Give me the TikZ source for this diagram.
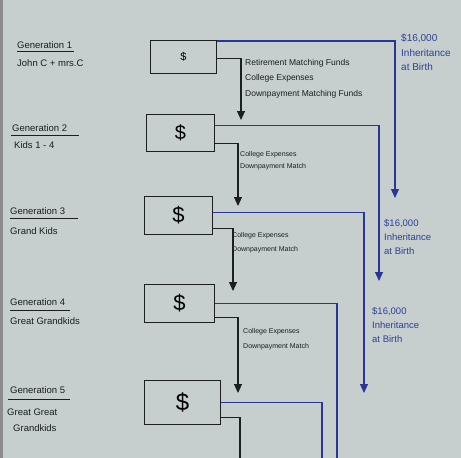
\documentclass[tikz,border=0pt]{standalone}
\usepackage{fontspec}
\setmainfont{Liberation Sans}
\usetikzlibrary{arrows.meta}
\definecolor{paper}{RGB}{199,206,206}
\definecolor{ink}{RGB}{28,30,34}
\definecolor{bink}{RGB}{40,55,150}
\definecolor{btext}{RGB}{45,65,150}
\begin{document}
\begin{tikzpicture}[x=1pt,y=-1pt,
  money/.style={draw=ink,line width=1.1pt,inner sep=0pt,anchor=north west},
  mon/.style={draw=ink,line width=1.1pt},
  inh/.style={draw=bink,line width=1.1pt},
  tip/.style={-{Triangle[width=8pt,length=9pt]}},
  gen/.style={anchor=west,text=ink,font=\fontsize{9.5}{10}\selectfont,inner sep=0pt},
  who/.style={anchor=west,text=ink,font=\fontsize{9.5}{10}\selectfont,inner sep=0pt},
  note/.style={anchor=west,text=ink,font=\fontsize{7}{8}\selectfont,inner sep=0pt},
  bignote/.style={anchor=west,text=ink,font=\fontsize{8.5}{10}\selectfont,inner sep=0pt},
  blue/.style={anchor=north west,text=btext,font=\fontsize{9.5}{14}\selectfont,inner sep=0pt,align=left},
  uline/.style={draw=ink,line width=1pt}]
\fill[paper] (0,0) rectangle (461,458);
\fill[black!45] (0,0) rectangle (3,458);
\useasboundingbox (0,0) rectangle (461,458);

% left labels
\node[gen] (l1) at (17,45) {Generation 1};
\draw[uline] (l1.south west) ++(0,3) -- ++(57,0);
\node[who] (w1) at (17,63) {John C + mrs.C};
\node[gen] (l2) at (12,128) {Generation 2};
\draw[uline] (l2.south west) ++(-1,4) -- ++(68,0);
\node[who] (w2) at (14,145) {Kids 1 - 4};
\node[gen] (l3) at (10,211) {Generation 3};
\draw[uline] (l3.south west) ++(0,4) -- ++(68,0);
\node[who] (w3) at (10,231) {Grand Kids};
\node[gen] (l4) at (10,302) {Generation 4};
\draw[uline] (l4.south west) ++(0,5) -- ++(60,0);
\node[who] (w4) at (10,321) {Great Grandkids};
\node[gen] (l5) at (10,390) {Generation 5};
\draw[uline] (l5.south west) ++(-2,6) -- ++(62,0);
\node[who] (w5a) at (7,412) {Great Great};
\node[who] (w5b) at (13,428) {Grandkids};

% money boxes
\node[money,minimum width=66pt,minimum height=33pt,font=\fontsize{11}{12}\selectfont] (g1) at (150,40) {\$};
\node[money,minimum width=68pt,minimum height=37pt,font=\fontsize{20}{22}\selectfont] (g2) at (146,114) {\$};
\node[money,minimum width=68pt,minimum height=38pt,font=\fontsize{22}{24}\selectfont] (g3) at (144,196) {\$};
\node[money,minimum width=70pt,minimum height=38pt,font=\fontsize{22}{24}\selectfont] (g4) at (144,284) {\$};
\node[money,minimum width=76pt,minimum height=44pt,font=\fontsize{24}{26}\selectfont] (g5) at (144,380) {\$};

% arrow ends and free ends
\coordinate (i1) at (395,198);
\coordinate (m1) at (241,120);
\coordinate (i2) at (379,281);
\coordinate (m2) at (238,206);
\coordinate (i3) at (364,393);
\coordinate (m3) at (233,291);
\coordinate (e4) at (337,458);
\coordinate (m4) at (238,393);
\coordinate (e5) at (322,458);
\coordinate (f5) at (240,458);

% inheritance connectors (blue)
\draw[inh,tip] ([yshift=-1pt]g1.north east) -| (i1);
\draw[inh,tip] ([yshift=8pt]g2.east) -| (i2);
\draw[inh,tip] ([yshift=3pt]g3.east) -| (i3);
\draw[inh] (g4.east) -| (e4);
\draw[inh] (g5.east) -| (e5);

% matching connectors (black)
\draw[mon,tip] ([yshift=-1pt]g1.east) -| (m1);
\draw[mon,tip] ([yshift=-10pt]g2.east) -| (m2);
\draw[mon,tip] ([yshift=-13pt]g3.east) -| (m3);
\draw[mon,tip] ([yshift=-14pt]g4.east) -| (m4);
\draw[mon] ([yshift=-15pt]g5.east) -| (f5);

% matching labels
\node[bignote] (t1a) at (245,63) {Retirement Matching Funds};
\node[bignote] (t1b) at (245,78) {College Expenses};
\node[bignote] (t1c) at (245,94) {Downpayment Matching Funds};
\node[note] (t2a) at (240,155) {College Expenses};
\node[note] (t2b) at (240,167) {Downpayment Match};
\node[note] (t3a) at (232,236) {College Expenses};
\node[note] (t3b) at (232,250) {Downpayment Match};
\node[note] (t4a) at (243,332) {College Expenses};
\node[note] (t4b) at (243,347) {Downpayment Match};

% inheritance labels
\node[blue,font=\fontsize{10}{14.5}\selectfont] (b1) at (401,34) {\$16,000\\Inheritance\\at Birth};
\node[blue] (b2) at (384,219) {\$16,000\\Inheritance\\at Birth};
\node[blue] (b3) at (372,307) {\$16,000\\Inheritance\\at Birth};
\end{tikzpicture}
\end{document}
